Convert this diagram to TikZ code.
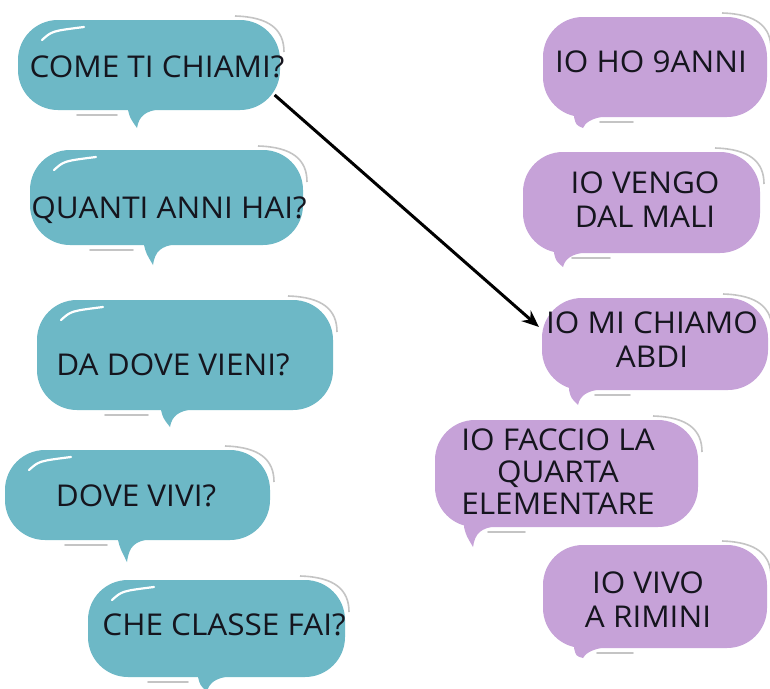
\documentclass[tikz,border=0pt]{standalone}
\usepackage{fontspec}
\setmainfont{Open Sans}[FakeStretch=1.05]
\usetikzlibrary{arrows.meta}
\definecolor{bubteal}{HTML}{6DB8C6}
\definecolor{bubpurp}{HTML}{C6A2D8}
\definecolor{arcgray}{HTML}{C4C4C4}
\definecolor{ink}{HTML}{15151E}
\newcommand{\bubble}[9]{%
  \fill[#7, rounded corners=40pt] (#1,#2) rectangle (#3,#4);
  \fill[#7] (#5-9,#4-8) -- (#5-9,#4) .. controls (#5-7,#4+8) .. (#5,#6) .. controls (#5+2,#4+6) and (#5+8,#4+1) .. (#5+24,#4-1) -- (#5+24,#4-8) -- cycle;
  \draw[arcgray, line width=1.6pt] (#3-45,#2-4) .. controls (#3-10,#2-3) and (#3+4,#2+10) .. (#3+4,#2+32);
  \draw[arcgray, line width=1.6pt, line cap=round] (#8,#4+5) -- (#9,#4+5);
}
\newcommand{\hilite}[2]{%
  \draw[white, line width=2.2pt, line cap=round] (#1+24,#2+20) .. controls (#1+34,#2+11) .. (#1+66,#2+7);
}
\tikzset{txt/.style={font=\fontsize{30}{34}\selectfont, text=ink, align=center, inner sep=0pt}}
\begin{document}
\begin{tikzpicture}[x=1pt,y=-1pt]
\useasboundingbox (0,0) rectangle (770,688);
\fill[white] (0,0) rectangle (770,688);
% teal bubbles
\bubble{18}{20}{280}{110}{137}{128}{bubteal}{77}{117}
\hilite{18}{20}
\bubble{30}{150}{303}{245}{153}{265}{bubteal}{90}{133}
\hilite{30}{150}
\bubble{37}{300}{333}{410}{170}{427}{bubteal}{105}{148}
\hilite{37}{300}
\bubble{5}{450}{270}{540}{127}{562}{bubteal}{65}{107}
\hilite{5}{450}
\bubble{88}{580}{345}{677}{207}{692}{bubteal}{148}{188}
\hilite{88}{580}
% purple bubbles
\bubble{543}{17}{767}{117}{583}{128}{bubpurp}{600}{633}
\bubble{523}{152}{760}{253}{563}{267}{bubpurp}{572}{610}
\bubble{542}{298}{768}{390}{578}{405}{bubpurp}{595}{630}
\bubble{435}{420}{698}{527}{473}{547}{bubpurp}{488}{525}
\bubble{543}{545}{767}{648}{583}{658}{bubpurp}{597}{633}
% texts
\node[txt] (q1) at (157,67) {COME TI CHIAMI?};
\node[txt] (q2) at (169,210) {QUANTI ANNI HAI?};
\node[txt] (q3) at (173,365) {DA DOVE VIENI?};
\node[txt] (q4) at (136,496) {DOVE VIVI?};
\node[txt] (q5) at (224,625) {CHE CLASSE FAI?};
\node[txt] (a1) at (651,62) {IO HO 9ANNI};
\node[txt] (a2) at (645,200) {IO VENGO\\DAL MALI};
\node[txt] (a3) at (652,340) {IO MI CHIAMO\\ABDI};
\node[txt, font=\fontsize{30}{32}\selectfont] (a4) at (558,472) {IO FACCIO LA\\QUARTA\\ELEMENTARE};
\node[txt] (a5) at (648,600) {IO VIVO\\A RIMINI};
% connector
\draw[line width=3pt, -{Stealth[length=17pt,width=14pt]}] ([shift={(-10,28)}]q1.east) -- ([shift={(-7,-13)}]a3.west);
\end{tikzpicture}
\end{document}
